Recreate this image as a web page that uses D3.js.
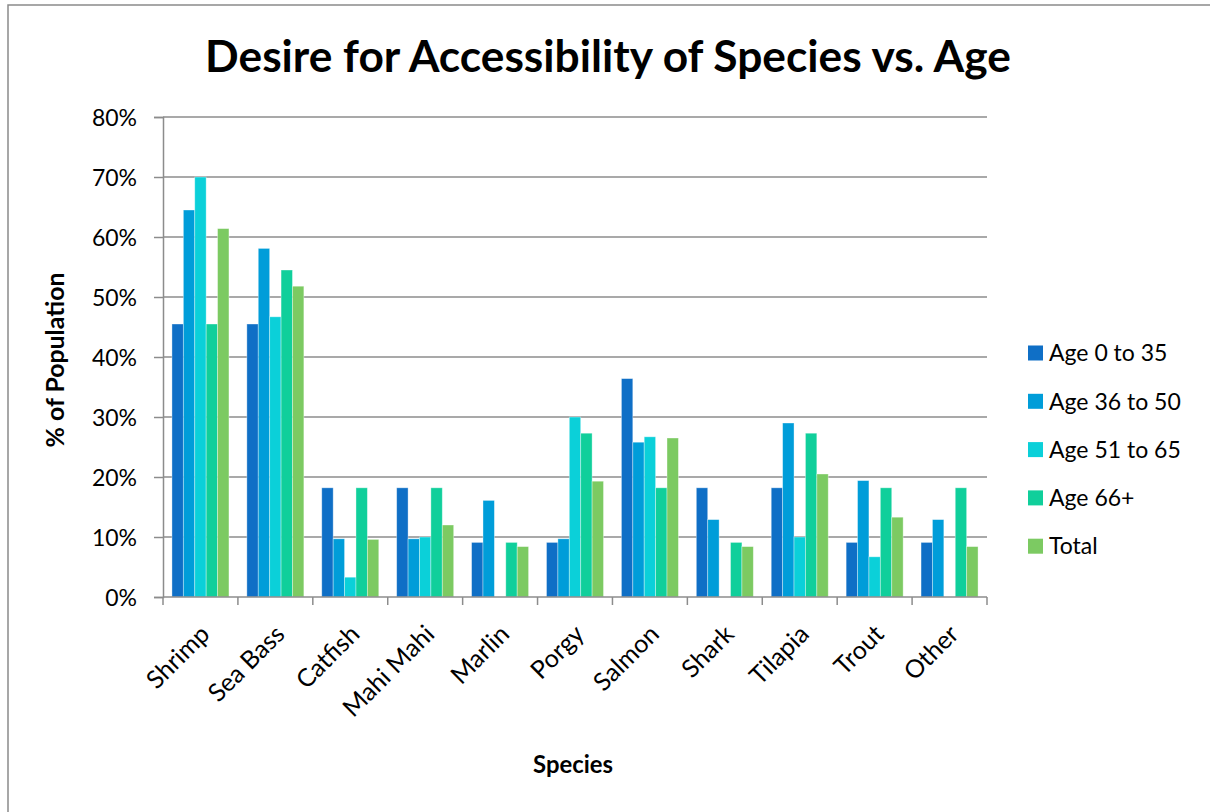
<!DOCTYPE html>
<html>
<head>
<meta charset="utf-8">
<script src="https://cdn.jsdelivr.net/npm/d3@7"></script>
<style>
  html, body { margin: 0; padding: 0; background: #fff; }
  svg { display: block; font-family: Lato, "Open Sans", sans-serif; }
</style>
</head>
<body>
<svg id="chart" width="1210" height="812"></svg>
<script>
// Survey results: share of each age group wanting access to each species (%)
const categories = ["Shrimp", "Sea Bass", "Catfish", "Mahi Mahi", "Marlin", "Porgy",
                    "Salmon", "Shark", "Tilapia", "Trout", "Other"];
const seriesNames = ["Age 0 to 35", "Age 36 to 50", "Age 51 to 65", "Age 66+", "Total"];
const age0to35  = [45.5, 45.5, 18.2, 18.2, 9.1, 9.1, 36.4, 18.2, 18.2, 9.1, 9.1];
const age36to50 = [64.5, 58.1, 9.7, 9.7, 16.1, 9.7, 25.8, 12.9, 29.0, 19.4, 12.9];
const age51to65 = [70.0, 46.7, 3.3, 10.0, 0, 30.0, 26.7, 0, 10.0, 6.7, 0];
const age66plus = [45.5, 54.5, 18.2, 18.2, 9.1, 27.3, 18.2, 9.1, 27.3, 18.2, 18.2];
const total     = [61.4, 51.8, 9.6, 12.0, 8.4, 19.3, 26.5, 8.4, 20.5, 13.3, 8.4];
const yTicks = [0, 10, 20, 30, 40, 50, 60, 70, 80];
const colors = ["#0F6FC6", "#009DD9", "#0BD0D9", "#10CF9B", "#7CCA62"];

const seriesValues = [age0to35, age36to50, age51to65, age66plus, total];
const rows = [];
categories.forEach((c, i) => {
  seriesNames.forEach((s, j) => rows.push({ cat: c, series: s, value: seriesValues[j][i] }));
});

const svg = d3.select("#chart");
const plot = { left: 163, right: 987, top: 117, bottom: 597 };
const gridColor = "#8c8c8c";

// Chart frame
svg.append("rect")
  .attr("x", 8).attr("y", 5).attr("width", 1230).attr("height", 840)
  .attr("fill", "none").attr("stroke", "#8a8a8a").attr("stroke-width", 1.5);

const x0 = d3.scaleBand().domain(categories).range([plot.left, plot.right]).padding(0);
const x1 = d3.scaleBand().domain(seriesNames).range([0, x0.bandwidth()])
  .paddingInner(0).paddingOuter(0.785);
const y = d3.scaleLinear().domain([0, 80]).range([plot.bottom, plot.top]);
const color = d3.scaleOrdinal().domain(seriesNames).range(colors);

// Horizontal gridlines
svg.append("g")
  .selectAll("line")
  .data(yTicks.filter(t => t > 0))
  .join("line")
  .attr("x1", plot.left).attr("x2", plot.right)
  .attr("y1", d => y(d)).attr("y2", d => y(d))
  .attr("stroke", gridColor).attr("stroke-width", 1.5);

// Bars
svg.append("g")
  .selectAll("rect")
  .data(rows.filter(d => d.value > 0))
  .join("rect")
  .attr("x", d => x0(d.cat) + x1(d.series))
  .attr("y", d => y(d.value))
  .attr("width", x1.bandwidth())
  .attr("height", d => y(0) - y(d.value))
  .attr("fill", d => color(d.series))
  .attr("stroke", "rgba(255,255,255,0.45)")
  .attr("stroke-width", 0.8);

// Y axis
const yAxis = d3.axisLeft(y).tickValues(yTicks).tickFormat(d => d + "%").tickSize(9).tickPadding(17);
const gy = svg.append("g").attr("transform", `translate(${plot.left},0)`).call(yAxis);
gy.select(".domain").attr("stroke", gridColor).attr("stroke-width", 1.5);
gy.selectAll(".tick line").attr("stroke", gridColor).attr("stroke-width", 1.5);
gy.selectAll(".tick text")
  .attr("font-family", "Lato, sans-serif").attr("font-size", 23).attr("fill", "#000")
  .attr("dy", "0.36em");

// X axis: ticks sit on the category boundaries
const boundaries = categories.map(c => x0(c)).concat([plot.right]);
svg.append("line")
  .attr("x1", plot.left).attr("x2", plot.right)
  .attr("y1", plot.bottom).attr("y2", plot.bottom)
  .attr("stroke", gridColor).attr("stroke-width", 1.5);
svg.append("g").selectAll("line")
  .data(boundaries)
  .join("line")
  .attr("x1", d => d).attr("x2", d => d)
  .attr("y1", plot.bottom).attr("y2", plot.bottom + 8)
  .attr("stroke", gridColor).attr("stroke-width", 1.5);

// Category labels rotated 45 degrees
svg.append("g").selectAll("text")
  .data(categories)
  .join("text")
  .attr("transform", d => `translate(${x0(d) + x0.bandwidth() / 2 - 2},${plot.bottom + 26}) rotate(-45)`)
  .attr("text-anchor", "end")
  .attr("dy", "0.72em")
  .attr("font-size", 25)
  .attr("fill", "#000")
  .text(d => d);

// Fit a text element to a target width by adjusting its font size
function fitWidth(sel, target) {
  const w = sel.node().getComputedTextLength();
  const fs = parseFloat(sel.attr("font-size"));
  sel.attr("font-size", fs * target / w);
}

// Title
const title = svg.append("text")
  .attr("x", 608).attr("y", 72)
  .attr("text-anchor", "middle")
  .attr("font-weight", "bold").attr("font-size", 40).attr("fill", "#000")
  .text("Desire for Accessibility of Species vs. Age");
fitWidth(title, 806);

// Axis titles
const yTitle = svg.append("text")
  .attr("transform", "translate(64,360) rotate(-90)")
  .attr("text-anchor", "middle")
  .attr("font-weight", "bold").attr("font-size", 22).attr("fill", "#000")
  .text("% of Population");
fitWidth(yTitle, 175);

const xTitle = svg.append("text")
  .attr("x", 573).attr("y", 773)
  .attr("text-anchor", "middle")
  .attr("font-weight", "bold").attr("font-size", 22).attr("fill", "#000")
  .text("Species");
fitWidth(xTitle, 80);

// Legend
const legend = svg.append("g")
  .selectAll("g")
  .data(seriesNames)
  .join("g")
  .attr("transform", (d, i) => `translate(1028,${353 + i * 48.3})`);
legend.append("rect")
  .attr("x", 0).attr("y", -7.5).attr("width", 15).attr("height", 15)
  .attr("fill", d => color(d));
legend.append("text")
  .attr("x", 21).attr("dy", "0.36em")
  .attr("font-size", 23).attr("fill", "#000")
  .text(d => d);
</script>
</body>
</html>
